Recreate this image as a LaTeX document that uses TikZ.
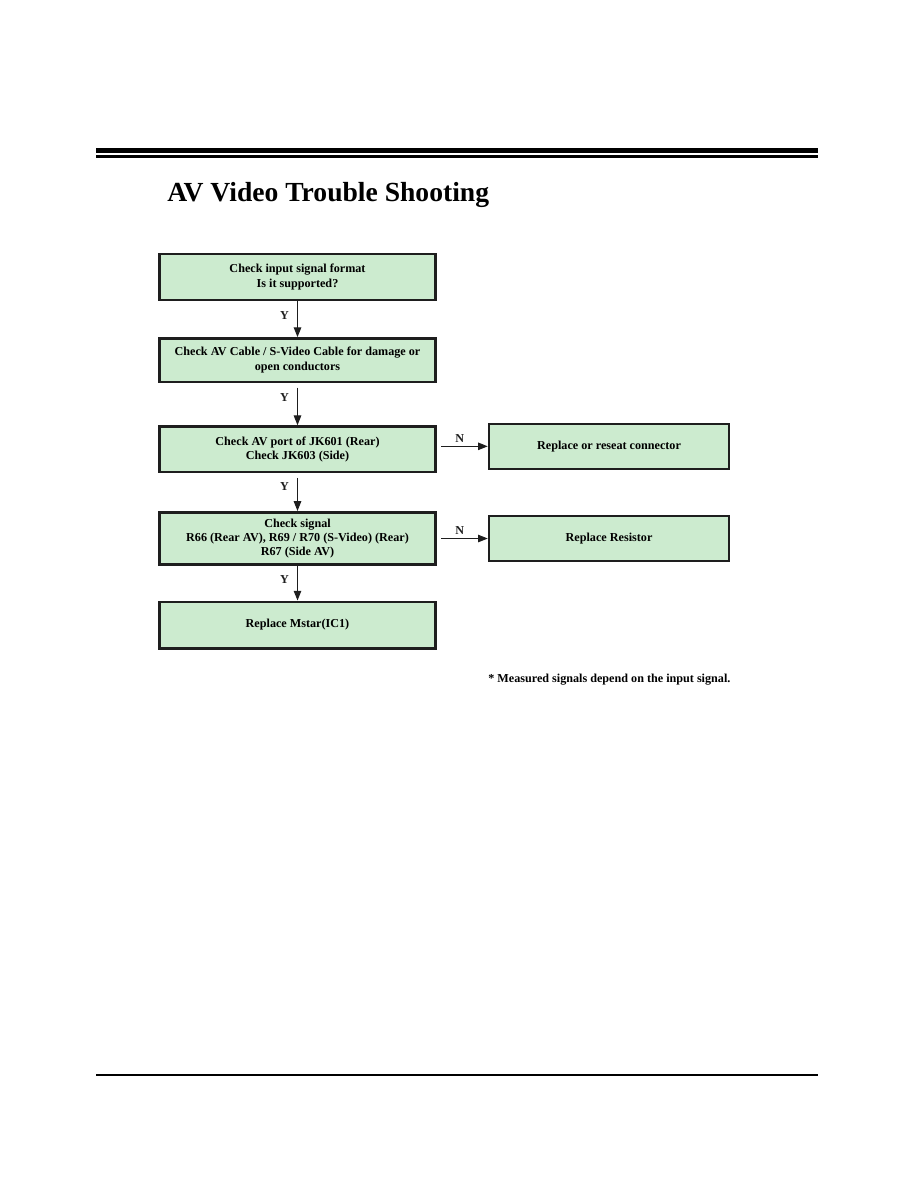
\documentclass[tikz,border=0pt]{standalone}
\usepackage{fontspec}
\setmainfont{Liberation Serif}
\usetikzlibrary{positioning,arrows.meta}
\definecolor{verde}{HTML}{CCEBCF}
\definecolor{borde}{HTML}{1E1E1E}

\begin{document}
\begin{tikzpicture}[x=0.6667pt,y=-0.6667pt,
        font=\fontsize{8.1}{9.6}\selectfont\bfseries,
        b/.style={draw=borde,line width=1.7pt,fill=verde,minimum width=184pt,align=center,inner sep=2pt},
        r/.style={b,minimum width=160pt,minimum height=30pt},
        f/.style={-{Triangle[length=6.5pt,width=5pt]},line width=0.7pt,borde}]
  \useasboundingbox (0,0) rectangle (918,1188);
  % page rules
  \draw[line width=3.2pt] (96,150.5) -- (818,150.5);
  \draw[line width=1.4pt] (96,156.5) -- (818,156.5);
  \draw[line width=1.4pt] (96,1075) -- (818,1075);
  \node[anchor=base west,font=\fontsize{18.4}{20}\selectfont\bfseries] (titulo) at (162,202)
    {AV Video Trouble Shooting};
  % flow
  \node[b,minimum height=30.5pt] (fmt) at (297.5,277) {Check input signal format\\Is it supported?};
  \node[b,minimum height=29pt,below=24pt of fmt] (cable) {Check AV Cable / S-Video Cable for damage or\\open conductors};
  \node[b,minimum height=30.5pt,below=28pt of cable] (port) {Check AV port of JK601 (Rear)\\Check JK603 (Side)};
  \node[b,minimum height=35pt,below=25pt of port] (sig) {Check signal\\R66 (Rear AV), R69 / R70 (S-Video) (Rear)\\R67 (Side AV)};
  \node[b,minimum height=31pt,below=23pt of sig] (mstar) {Replace Mstar(IC1)};
  \node[r,right=34pt of port,yshift=2pt] (conn) {Replace or reseat connector};
  \node[r,right=34pt of sig] (res) {Replace Resistor};
  \draw[f] (fmt) -- node[pos=0.4,left=2pt] {Y} (cable);
  \draw[f,shorten <=3pt] (cable) -- node[pos=0.35,left=2pt] {Y} (port);
  \draw[f,shorten <=3pt] (port) -- node[pos=0.35,left=2pt] {Y} (sig);
  \draw[f] (sig) -- node[pos=0.4,left=2pt] {Y} (mstar);
  \draw[f,shorten <=3pt] (port.east |- conn) -- node[pos=0.45,above=-1pt] {N} (conn);
  \draw[f,shorten <=3pt] (sig.east |- res) -- node[pos=0.45,above=-1pt] {N} (res);
  \node[anchor=west] (nota) at (483,680) {* Measured signals depend on the input signal.};
\end{tikzpicture}
\end{document}
